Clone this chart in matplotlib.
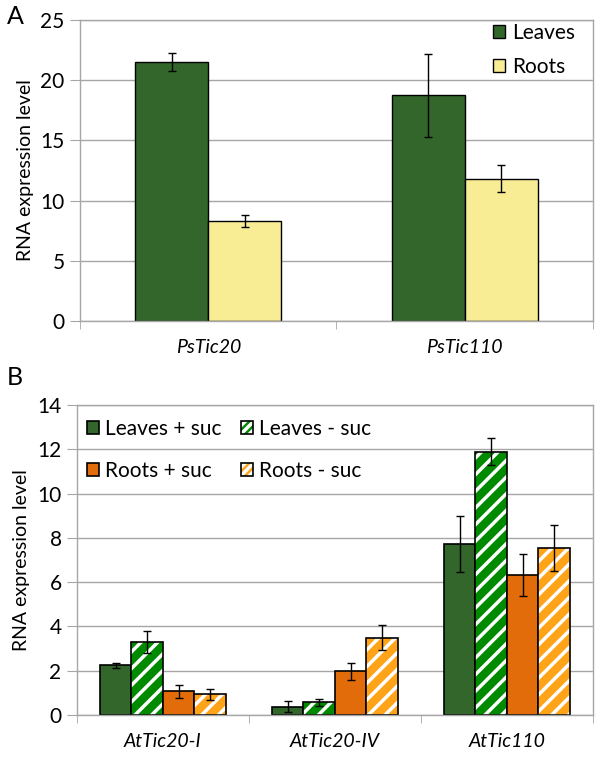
import numpy as np
import matplotlib
matplotlib.use("Agg")
import matplotlib.pyplot as plt
from matplotlib.patches import Patch
from matplotlib.legend_handler import HandlerTuple

plt.rcParams["font.family"] = ["Lato", "DejaVu Sans"]
plt.rcParams["hatch.linewidth"] = 2.5

# Panel A data
genes_a = ["PsTic20", "PsTic110"]
leaves_a = [21.5, 18.75]
leaves_a_err = [0.78, 3.45]
roots_a = [8.3, 11.8]
roots_a_err = [0.5, 1.12]

# Panel B data
genes_b = ["AtTic20-I", "AtTic20-IV", "AtTic110"]
series_b = ["Leaves + suc", "Leaves - suc", "Roots + suc", "Roots - suc"]
leaves_suc = [2.24, 0.38, 7.73]
leaves_suc_err = [0.13, 0.24, 1.27]
leaves_nosuc = [3.28, 0.57, 11.9]
leaves_nosuc_err = [0.5, 0.14, 0.6]
roots_suc = [1.07, 1.98, 6.33]
roots_suc_err = [0.29, 0.38, 0.95]
roots_nosuc = [0.93, 3.49, 7.53]
roots_nosuc_err = [0.25, 0.57, 1.03]

DARK_GREEN = "#33662A"
GREEN = "#008A00"
ORANGE = "#E36C0A"
LIGHT_ORANGE = "#FFA319"
YELLOW = "#F8EC94"
GRID = "#A6A6A6"

fig = plt.figure(figsize=(6, 7.71), dpi=100)


def style_axes(ax, ymax, ystep, ncat):
    ax.set_xlim(0, ncat)
    ax.set_ylim(0, ymax)
    ax.set_yticks(np.arange(0, ymax + 0.01, ystep))
    ax.yaxis.grid(True, color=GRID, linewidth=1)
    ax.set_axisbelow(True)
    for s in ax.spines.values():
        s.set_color(GRID)
        s.set_linewidth(1)
    ax.tick_params(axis="y", length=7, color=GRID, labelsize=15, pad=4)
    ax.set_xticks(np.arange(ncat) + 0.5)
    ax.set_xticks(np.arange(ncat + 1), minor=True)
    ax.tick_params(axis="x", which="major", length=0, labelsize=14, pad=13)
    ax.tick_params(axis="x", which="minor", length=6, color=GRID)
    ax.set_ylabel("RNA expression level", fontsize=14, labelpad=5)


# ---- Panel A ----
axA = fig.add_axes([0.1333, 0.5837, 0.855, 0.3904])
x = np.arange(len(genes_a)) + 0.5
w = 0.285
axA.bar(x - w / 2, leaves_a, w, color=DARK_GREEN, edgecolor="black", linewidth=1,
        yerr=leaves_a_err, capsize=3, error_kw=dict(elinewidth=1, capthick=1), label="Leaves")
axA.bar(x + w / 2, roots_a, w, color=YELLOW, edgecolor="black", linewidth=1,
        yerr=roots_a_err, capsize=3, error_kw=dict(elinewidth=1, capthick=1), label="Roots")
style_axes(axA, 25, 5, len(genes_a))
axA.set_xticklabels(genes_a, style="italic")
axA.legend(loc="upper left", bbox_to_anchor=(0.805, 0.99), frameon=False, fontsize=15,
           borderpad=0, borderaxespad=0,
           handlelength=0.6, handleheight=0.6, handletextpad=0.3, labelspacing=0.68)
fig.text(0.012, 0.978, "A", fontsize=18, va="center")

# ---- Panel B ----
axB = fig.add_axes([0.128, 0.0726, 0.86, 0.4021])
xb = np.arange(len(genes_b)) + 0.5
wb = 0.183
vals = [leaves_suc, leaves_nosuc, roots_suc, roots_nosuc]
errs = [leaves_suc_err, leaves_nosuc_err, roots_suc_err, roots_nosuc_err]
colors = [DARK_GREEN, GREEN, ORANGE, LIGHT_ORANGE]
hatched = [False, True, False, True]
handles = []
for i, (v, e, c, h) in enumerate(zip(vals, errs, colors, hatched)):
    pos = xb + (i - 1.5) * wb
    if h:
        axB.bar(pos, v, wb, color=c, edgecolor="white", hatch="//", linewidth=0)
        axB.bar(pos, v, wb, fill=False, edgecolor="black", linewidth=1.2,
                yerr=e, capsize=3, error_kw=dict(elinewidth=1, capthick=1))
        handles.append((Patch(facecolor=c, edgecolor="white", hatch="////", linewidth=0),
                        Patch(fill=False, edgecolor="black", linewidth=1.2)))
    else:
        axB.bar(pos, v, wb, color=c, edgecolor="black", linewidth=1.2,
                yerr=e, capsize=3, error_kw=dict(elinewidth=1, capthick=1))
        handles.append((Patch(facecolor=c, edgecolor="black", linewidth=1.2),))
style_axes(axB, 14, 2, len(genes_b))
axB.set_xticklabels(genes_b, style="italic")
# legend is filled column by column, so reorder to read row by row
order = [0, 2, 1, 3]
axB.legend([handles[k] for k in order], [series_b[k] for k in order], ncol=2,
           loc="upper left", bbox_to_anchor=(0.019, 0.955),
           frameon=False, fontsize=15, borderpad=0, borderaxespad=0,
           handlelength=0.6, handleheight=0.6,
           handletextpad=0.3, labelspacing=1.05, columnspacing=0.9,
           handler_map={tuple: HandlerTuple(ndivide=1, pad=0)})
fig.text(0.012, 0.51, "B", fontsize=18, va="center")

fig.savefig("out.png", dpi=100)
